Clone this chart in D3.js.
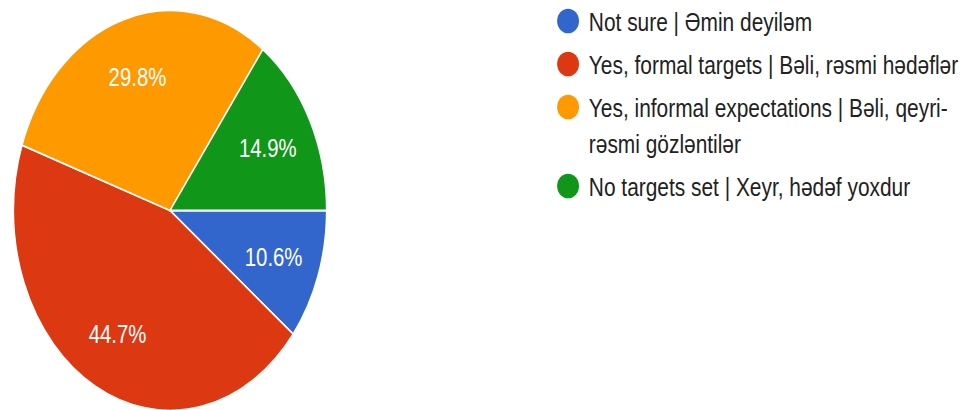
<!DOCTYPE html>
<html>
<head>
<meta charset="utf-8">
<script src="https://cdn.jsdelivr.net/npm/d3@7"></script>
<style>
  html, body { margin: 0; padding: 0; background: #ffffff; }
  svg { display: block; }
</style>
</head>
<body>
<svg id="chart" width="971" height="410"></svg>
<script>
// Survey answers: do you set targets?
const categories = [
  "Not sure | Əmin deyiləm",
  "Yes, formal targets | Bəli, rəsmi hədəflər",
  "Yes, informal expectations | Bəli, qeyri-rəsmi gözləntilər",
  "No targets set | Xeyr, hədəf yoxdur"
];
const shares = [10.6, 44.7, 29.8, 14.9];
const colors = ["#3366cc", "#dc3912", "#ff9900", "#109618"];

const W = 971, H = 410;
const squeeze = 0.783;          // horizontal compression of the whole drawing
const radius = 200;
const cx = 170 / squeeze, cy = 210.5;

const svg = d3.select("#chart");
const root = svg.append("g").attr("transform", `scale(${squeeze},1)`);

// ---- pie ----
const pie = d3.pie().sort(null).value(d => d)
  .startAngle(Math.PI / 2).endAngle(Math.PI / 2 + 2 * Math.PI);
const arcs = pie(shares);
const arc = d3.arc().innerRadius(0).outerRadius(radius);
const labelArc = d3.arc().innerRadius(radius * 0.7).outerRadius(radius * 0.7);

const pieG = root.append("g").attr("transform", `translate(${cx},${cy})`);
pieG.selectAll("path.slice")
  .data(arcs)
  .join("path")
  .attr("class", "slice")
  .attr("d", arc)
  .attr("fill", (d, i) => colors[i])
  .attr("stroke", "#ffffff")
  .attr("stroke-width", 1.8);

pieG.selectAll("text.pct")
  .data(arcs)
  .join("text")
  .attr("class", "pct")
  .attr("transform", d => `translate(${labelArc.centroid(d)})`)
  .attr("text-anchor", "middle")
  .attr("dy", "0.36em")
  .attr("font-family", "'Liberation Sans', Arial, sans-serif")
  .attr("font-size", 26)
  .attr("fill", "#ffffff")
  .text(d => d.data.toFixed(1) + "%");

// ---- legend ----
const legendX = 725.5, textX = 752, firstRowY = 21;
const rowGap = 43, lineGap = 36, fontSize = 26.7, maxWidth = 490;

const legendG = root.append("g");

// greedy line wrap breaking after spaces and hyphens
const measurer = legendG.append("text")
  .attr("font-family", "'Liberation Sans', Arial, sans-serif")
  .attr("font-size", fontSize)
  .attr("visibility", "hidden");
function textWidth(s) { measurer.text(s); return measurer.node().getComputedTextLength(); }
function wrap(label) {
  const tokens = label.split(/(?<=[\s-])/);
  const lines = [];
  let cur = "";
  tokens.forEach(t => {
    const trial = cur + t;
    if (cur && textWidth(trial.trim()) > maxWidth) { lines.push(cur.trim()); cur = t; }
    else cur = trial;
  });
  if (cur) lines.push(cur.trim());
  return lines;
}

let y = firstRowY;
categories.forEach((cat, i) => {
  const lines = wrap(cat);
  legendG.append("ellipse")
    .attr("cx", legendX).attr("cy", y)
    .attr("rx", 14).attr("ry", 12.3)
    .attr("fill", colors[i]);
  const t = legendG.append("text")
    .attr("x", textX).attr("y", y + 9.6)
    .attr("font-family", "'Liberation Sans', Arial, sans-serif")
    .attr("font-size", fontSize)
    .attr("fill", "#222222");
  lines.forEach((ln, k) => {
    t.append("tspan").attr("x", textX).attr("dy", k === 0 ? 0 : lineGap).text(ln);
  });
  y += rowGap + (lines.length - 1) * lineGap;
});
measurer.remove();
</script>
</body>
</html>
